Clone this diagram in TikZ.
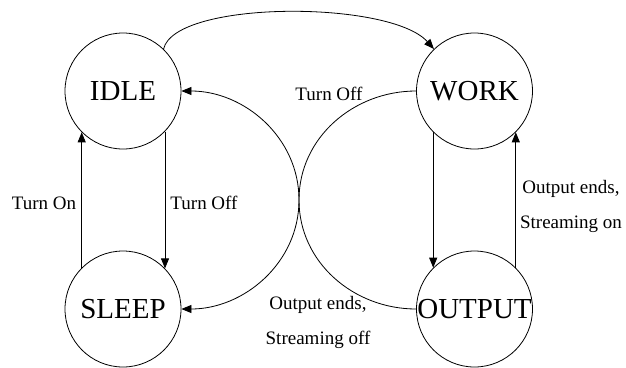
\documentclass[tikz,border=0pt]{standalone}
\usepackage{fontspec}
\setmainfont{Liberation Serif}
\usetikzlibrary{arrows.meta}
\tikzset{
  state/.style={draw, circle, line width=0.8pt, minimum size=116pt, inner sep=0pt, font=\fontsize{29}{33}\selectfont},
  edge/.style={line width=0.8pt, -{Triangle[length=10pt,width=8pt]}},
  lbl/.style={font=\fontsize{19}{35}\selectfont, align=center, inner sep=0pt}
}
\begin{document}
\begin{tikzpicture}[x=1pt,y=-1pt]
\useasboundingbox (0,0) rectangle (626,367);
\node[state] (idle) at (123,91) {IDLE};
\node[state] (work) at (474.5,91) {WORK};
\node[state] (sleep) at (123,309) {SLEEP};
\node[state] (output) at (474.5,309) {OUTPUT};
\coordinate (mid) at (299,200);

\draw[edge] (idle.46) .. controls (175,0) and (390,0) .. (work.134);
\draw[edge] (idle.-44) -- (sleep.44);
\draw[edge] (sleep.135) -- (idle.-135);
\draw[edge] (work.-135) -- (output.135);
\draw[edge] (output.45) -- (work.-45);
\draw[edge] (work.west) to[out=180,in=90] (mid) to[out=-90,in=0] (sleep.east);
\draw[edge] (output.west) to[out=180,in=-90] (mid) to[out=90,in=0] (idle.east);

\node[lbl] (l1) at (329,94) {Turn Off};
\node[lbl] (l2) at (44,203) {Turn On};
\node[lbl] (l3) at (204,203) {Turn Off};
\node[lbl] (l4) at (318,322.5) {Output ends,\\Streaming off};
\node[lbl] (l5) at (571,206) {Output ends,\\Streaming on};
\end{tikzpicture}
\end{document}
